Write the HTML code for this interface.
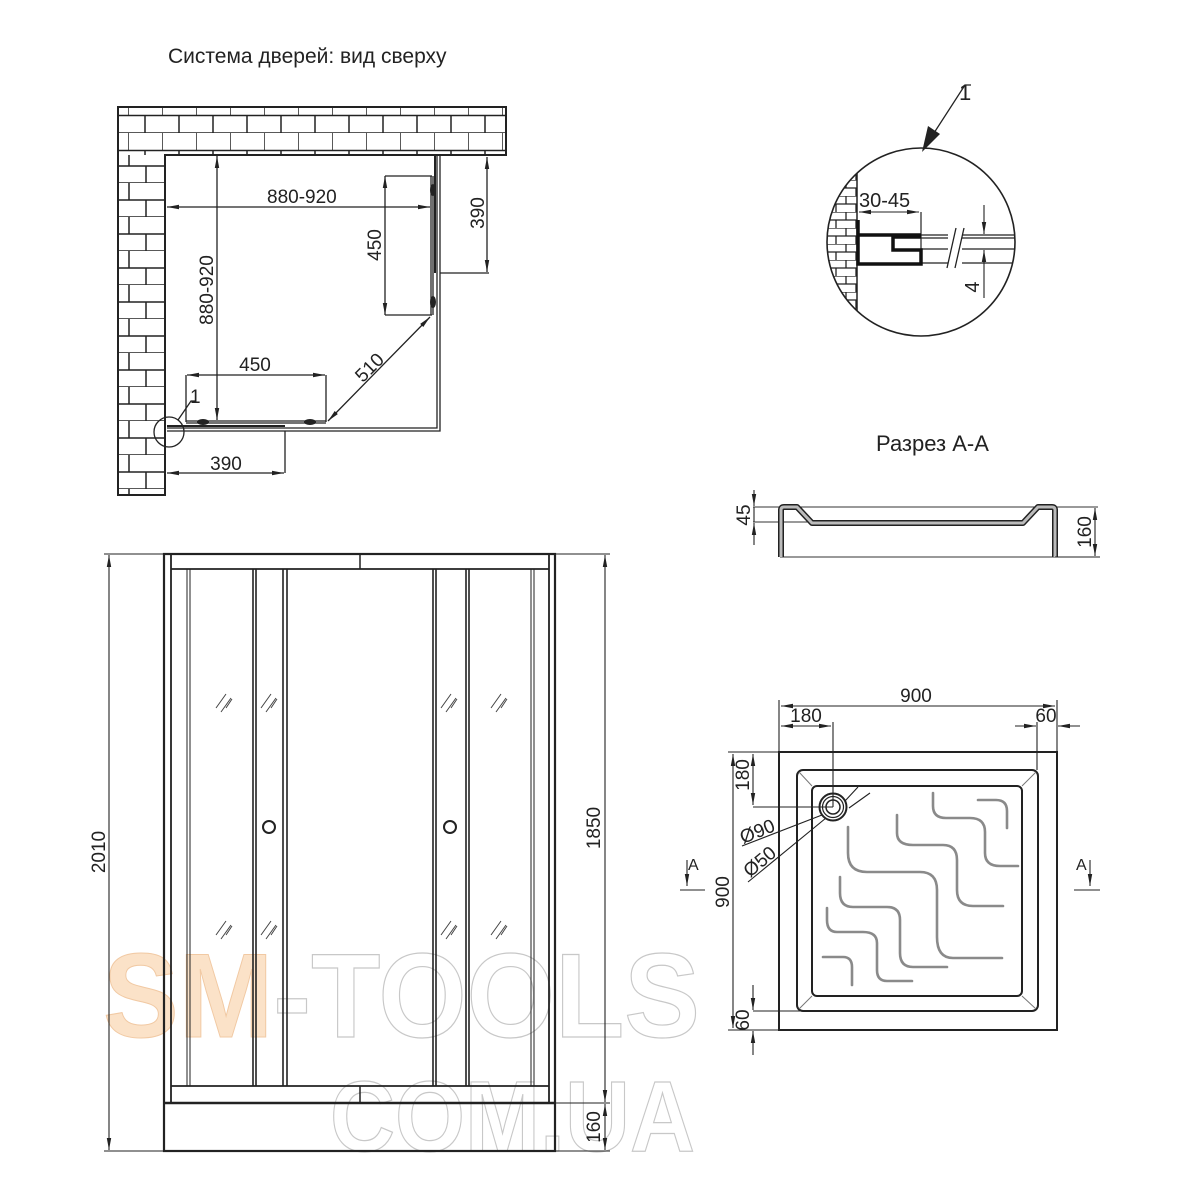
<!DOCTYPE html>
<html><head><meta charset="utf-8"><style>
html,body{margin:0;padding:0;background:#fff;}
svg{display:block;}
text{font-family:"Liberation Sans",sans-serif;fill:#222;}
</style></head><body>
<svg width="1200" height="1200" viewBox="0 0 1200 1200" xmlns="http://www.w3.org/2000/svg">
<defs>
<marker id="ar" viewBox="0 0 12 6" refX="12" refY="3" markerWidth="12" markerHeight="6" orient="auto-start-reverse" markerUnits="userSpaceOnUse"><path d="M0,0.8 L12,3 L0,5.2 z" fill="#222"/></marker>
<pattern id="bt" patternUnits="userSpaceOnUse" x="128" y="98" width="34" height="35">
<path d="M0 0V17.5 M17 17.5V35 M0 17.5H34 M0 35H34" stroke="#222" stroke-width="1.5" fill="none"/></pattern>
<pattern id="bl" patternUnits="userSpaceOnUse" x="118" y="149" width="47" height="34">
<path d="M11 0V17 M28 17V34 M0 17H47 M0 34H47" stroke="#222" stroke-width="1.5" fill="none"/></pattern>
<clipPath id="cc"><circle cx="921" cy="242" r="94"/></clipPath>
<pattern id="bd" patternUnits="userSpaceOnUse" x="820" y="180" width="20" height="16">
<path d="M0 0H20 M0 8H20 M6 0V8 M16 8V16" stroke="#222" stroke-width="1.3" fill="none"/></pattern>
</defs>

<!-- watermark -->
<text x="103" y="1037" font-size="120" font-weight="bold" textLength="597" lengthAdjust="spacingAndGlyphs" style="fill:none"><tspan style="fill:#fbe2c8;stroke:#f1c9a3;stroke-width:1">SM</tspan><tspan style="fill:none;stroke:#c8c8c8;stroke-width:1.2">-TOOLS</tspan></text>
<text x="330" y="1151" font-size="100" font-weight="bold" textLength="365" lengthAdjust="spacingAndGlyphs" style="fill:none;stroke:#c8c8c8;stroke-width:1.2">COM.UA</text>

<!-- title -->
<text x="168" y="63" font-size="21">Система дверей: вид сверху</text>

<!-- wall -->
<path d="M118 107H506V155H165V495H118Z" fill="#fff" stroke="#222" stroke-width="2"/>
<rect x="165" y="107" width="341" height="48" fill="url(#bt)"/>
<rect x="118" y="107" width="47" height="48" fill="url(#bt)"/>
<rect x="118" y="155" width="47" height="340" fill="url(#bl)"/>
<path d="M118 107H506V155H165V495H118Z" fill="none" stroke="#222" stroke-width="2"/>

<g stroke="#222" fill="none" stroke-width="1.3">
<path d="M437 155V428H167 M440 155V431H167"/>
<path d="M435 155V273 M167 426H285" stroke-width="2"/>
<path d="M431 176V315 M433 176V315" />
<path d="M186 421H326 M186 423H326"/>
<path d="M167 207H430" marker-start="url(#ar)" marker-end="url(#ar)"/>
<path d="M217 156V420" marker-start="url(#ar)" marker-end="url(#ar)"/>
<path d="M385 176V315" marker-start="url(#ar)" marker-end="url(#ar)"/>
<path d="M385 176H432 M385 315H432"/>
<path d="M487 157V272" marker-start="url(#ar)" marker-end="url(#ar)"/>
<path d="M440 273H489"/>
<path d="M187 375H325" marker-start="url(#ar)" marker-end="url(#ar)"/>
<path d="M186 375V422 M326 375V422"/>
<path d="M328 421L430 317" marker-start="url(#ar)" marker-end="url(#ar)"/>
<path d="M167 473H284" marker-start="url(#ar)" marker-end="url(#ar)"/>
<path d="M285 431V473"/>
<circle cx="169" cy="432" r="15"/>
<path d="M178 420L191 401H196"/>
</g>
<g fill="#222">
<ellipse cx="203" cy="422" rx="6" ry="3"/><ellipse cx="310" cy="422" rx="6" ry="3"/>
<ellipse cx="433" cy="190" rx="3" ry="6"/><ellipse cx="433" cy="302" rx="3" ry="6"/>
</g>
<text x="267" y="203" font-size="19">880-920</text>
<text transform="translate(213,290) rotate(-90)" font-size="19" text-anchor="middle">880-920</text>
<text transform="translate(381,245) rotate(-90)" font-size="19" text-anchor="middle">450</text>
<text transform="translate(484,213) rotate(-90)" font-size="19" text-anchor="middle">390</text>
<text x="255" y="371" font-size="19" text-anchor="middle">450</text>
<text transform="translate(374,372) rotate(-45)" font-size="19" text-anchor="middle">510</text>
<text x="226" y="470" font-size="19" text-anchor="middle">390</text>
<text x="190" y="403" font-size="19">1</text>

<!-- front view -->
<g stroke="#222" fill="none">
<rect x="164" y="554" width="391" height="597" stroke-width="2.2"/>
<path d="M171 554V1103 M549 554V1103" stroke-width="1.8"/>
<path d="M171 569H549 M171 1086H549" stroke-width="1.8"/>
<path d="M164 1103H555" stroke-width="2.5"/>
<path d="M360 554V569 M360 1086V1103" stroke-width="1.5"/>
<path d="M187 569V1086 M190 569V1086 M531 569V1086 M534 569V1086" stroke-width="1"/>
<path d="M253 569V1086 M256 569V1086 M283 569V1086 M287 569V1086 M433 569V1086 M436 569V1086 M466 569V1086 M469 569V1086" stroke-width="1.6"/>
<circle cx="269" cy="827" r="6" stroke-width="2"/>
<circle cx="450" cy="827" r="6" stroke-width="2"/>
<g stroke-width="1" stroke="#444">
<path d="M216 708l10-14 M221 712l10-14 M226 708l6-9 M261 708l10-14 M266 712l10-14 M271 708l6-9 M441 708l10-14 M446 712l10-14 M451 708l6-9 M491 708l10-14 M496 712l10-14 M501 708l6-9"/>
<path d="M216 935l10-14 M221 939l10-14 M226 935l6-9 M261 935l10-14 M266 939l10-14 M271 935l6-9 M441 935l10-14 M446 939l10-14 M451 935l6-9 M491 935l10-14 M496 939l10-14 M501 935l6-9"/>
</g>
<g stroke-width="1.1">
<path d="M109 555V1150" marker-start="url(#ar)" marker-end="url(#ar)"/>
<path d="M104 554H164 M104 1151H164"/>
<path d="M605 555V1102" marker-start="url(#ar)" marker-end="url(#ar)"/>
<path d="M605 1104V1150" marker-start="url(#ar)" marker-end="url(#ar)"/>
<path d="M555 554H610 M555 1103H610 M555 1151H610"/>
</g>
</g>
<text transform="translate(105,852) rotate(-90)" font-size="19" text-anchor="middle">2010</text>
<text transform="translate(600,828) rotate(-90)" font-size="19" text-anchor="middle">1850</text>
<text transform="translate(600,1127) rotate(-90)" font-size="19" text-anchor="middle">160</text>

<!-- detail circle -->
<path d="M923 150L965 85H971" stroke="#222" stroke-width="1.3" fill="none"/>
<path d="M922 152L928 126L940 134Z" fill="#222"/>
<text x="959" y="100" font-size="22">1</text>
<g clip-path="url(#cc)">
<rect x="820" y="140" width="37" height="210" fill="url(#bd)"/>
<path d="M857 140V350" stroke="#222" stroke-width="1.5"/>
<g stroke="#222" fill="none" stroke-width="1.2">
<path d="M921 235H1020 M921 238H1020 M921 249H1020 M921 263H1020"/>
<path d="M921 212V263"/>
</g>
</g>
<rect x="948" y="228" width="14" height="40" fill="#fff"/>
<path d="M947 268L956 228 M955 268L964 228" stroke="#222" stroke-width="1.3"/>
<path d="M858 220V264H921V250H893V237H921" stroke="#111" stroke-width="3.5" fill="none"/>
<path d="M858 235H921" stroke="#111" stroke-width="3.5"/>
<circle cx="921" cy="242" r="94" fill="none" stroke="#222" stroke-width="1.6"/>
<g stroke="#222" stroke-width="1.1" fill="none">
<path d="M859 212H919" marker-start="url(#ar)" marker-end="url(#ar)"/>
<path d="M984 205V234" marker-end="url(#ar)"/>
<path d="M984 298V250" marker-end="url(#ar)"/>
</g>
<text x="859" y="207" font-size="20">30-45</text>
<text transform="translate(979,287) rotate(-90)" font-size="20" text-anchor="middle">4</text>

<!-- section -->
<text x="876" y="451" font-size="22">Разрез А-А</text>
<g fill="none">
<path d="M753 507H1098 M753 522H812 M780 557H1055" stroke="#333" stroke-width="1"/>
<path d="M781 557V510Q781 507 784 507H797L812 523H1023L1038 507H1052Q1055 507 1055 510V557" stroke="#222" stroke-width="6" stroke-linejoin="round"/>
<path d="M781 557V510Q781 507 784 507H797L812 523H1023L1038 507H1052Q1055 507 1055 510V557" stroke="#bbb" stroke-width="3" stroke-linejoin="round"/>
<g stroke="#222" stroke-width="1.1">
<path d="M754 490V506" marker-end="url(#ar)"/>
<path d="M754 545V523" marker-end="url(#ar)"/>
<path d="M754 507V522"/>
<path d="M1095 508V556" marker-start="url(#ar)" marker-end="url(#ar)"/>
<path d="M1055 557H1100"/>
</g>
</g>
<text transform="translate(750,515) rotate(-90)" font-size="19" text-anchor="middle">45</text>
<text transform="translate(1091,532) rotate(-90)" font-size="19" text-anchor="middle">160</text>

<!-- tray plan -->
<g fill="none" stroke="#222">
<rect x="779" y="752" width="278" height="278" stroke-width="2"/>
<rect x="797" y="770" width="241" height="241" rx="6" stroke-width="2"/>
<rect x="812" y="786" width="210" height="210" rx="5" stroke-width="2"/>
<path d="M799 772L812 786 M1036 772L1022 786 M799 1009L812 996 M1036 1009L1022 996" stroke-width="1" stroke="#777"/>
<circle cx="833" cy="807" r="13.5" stroke-width="2"/>
<circle cx="833" cy="807" r="10.5" stroke-width="1.2"/>
<circle cx="833" cy="807" r="7" stroke-width="1.5"/>
<g stroke="#8a8a8a" stroke-width="2.6" stroke-linecap="round">
<path d="M978 800H996Q1007 800 1007 811V828"/>
<path d="M933 793V806Q933 818 946 818H970Q985 818 985 832V853Q985 866 1000 866H1018"/>
<path d="M897 815V833Q897 845 913 845H943Q957 845 957 860V890Q957 906 973 906H1003"/>
<path d="M848 827V853Q848 872 867 872H920Q937 872 937 890V937Q937 958 953 958H1002"/>
<path d="M840 877V893Q840 907 853 907H887Q900 907 900 920V953Q900 967 913 967H947"/>
<path d="M827 908V920Q827 932 837 932H863Q877 932 877 943V970Q877 981 887 981H912"/>
<path d="M823 957H843Q852 957 852 967V985"/>
</g>
<g stroke-width="1.1">
<path d="M781 706H1055" marker-start="url(#ar)" marker-end="url(#ar)"/>
<path d="M779 700V752 M1057 700V752"/>
<path d="M781 726H831" marker-start="url(#ar)" marker-end="url(#ar)"/>
<path d="M833 722V807 M1037 722V770"/>
<path d="M1015 726H1036" marker-end="url(#ar)"/>
<path d="M1080 726H1058" marker-end="url(#ar)"/>
<path d="M733 754V1028" marker-start="url(#ar)" marker-end="url(#ar)"/>
<path d="M728 752H779 M728 1030H779"/>
<path d="M753 754V805" marker-start="url(#ar)" marker-end="url(#ar)"/>
<path d="M753 807H833"/>
<path d="M753 985V1010" marker-end="url(#ar)"/>
<path d="M753 1055V1031" marker-end="url(#ar)"/>
<path d="M753 1011H800"/>
<path d="M742 846L822 815 M748 882L826 818 M845 801L858 787 M849 808L870 793"/>
<path d="M687 860V886" marker-end="url(#ar)"/>
<path d="M680 890H705"/>
<path d="M1090 860V886" marker-end="url(#ar)"/>
<path d="M1074 890H1100"/>
</g>
</g>
<text x="916" y="702" font-size="19" text-anchor="middle">900</text>
<text x="806" y="722" font-size="19" text-anchor="middle">180</text>
<text x="1046" y="722" font-size="19" text-anchor="middle">60</text>
<text transform="translate(729,892) rotate(-90)" font-size="19" text-anchor="middle">900</text>
<text transform="translate(749,775) rotate(-90)" font-size="19" text-anchor="middle">180</text>
<text transform="translate(749,1020) rotate(-90)" font-size="19" text-anchor="middle">60</text>
<text transform="translate(743,844) rotate(-22)" font-size="19">Ø90</text>
<text transform="translate(750,878) rotate(-40)" font-size="19">Ø50</text>
<text x="688" y="870" font-size="16">A</text>
<text x="1076" y="870" font-size="16">A</text>
</svg>
</body></html>
